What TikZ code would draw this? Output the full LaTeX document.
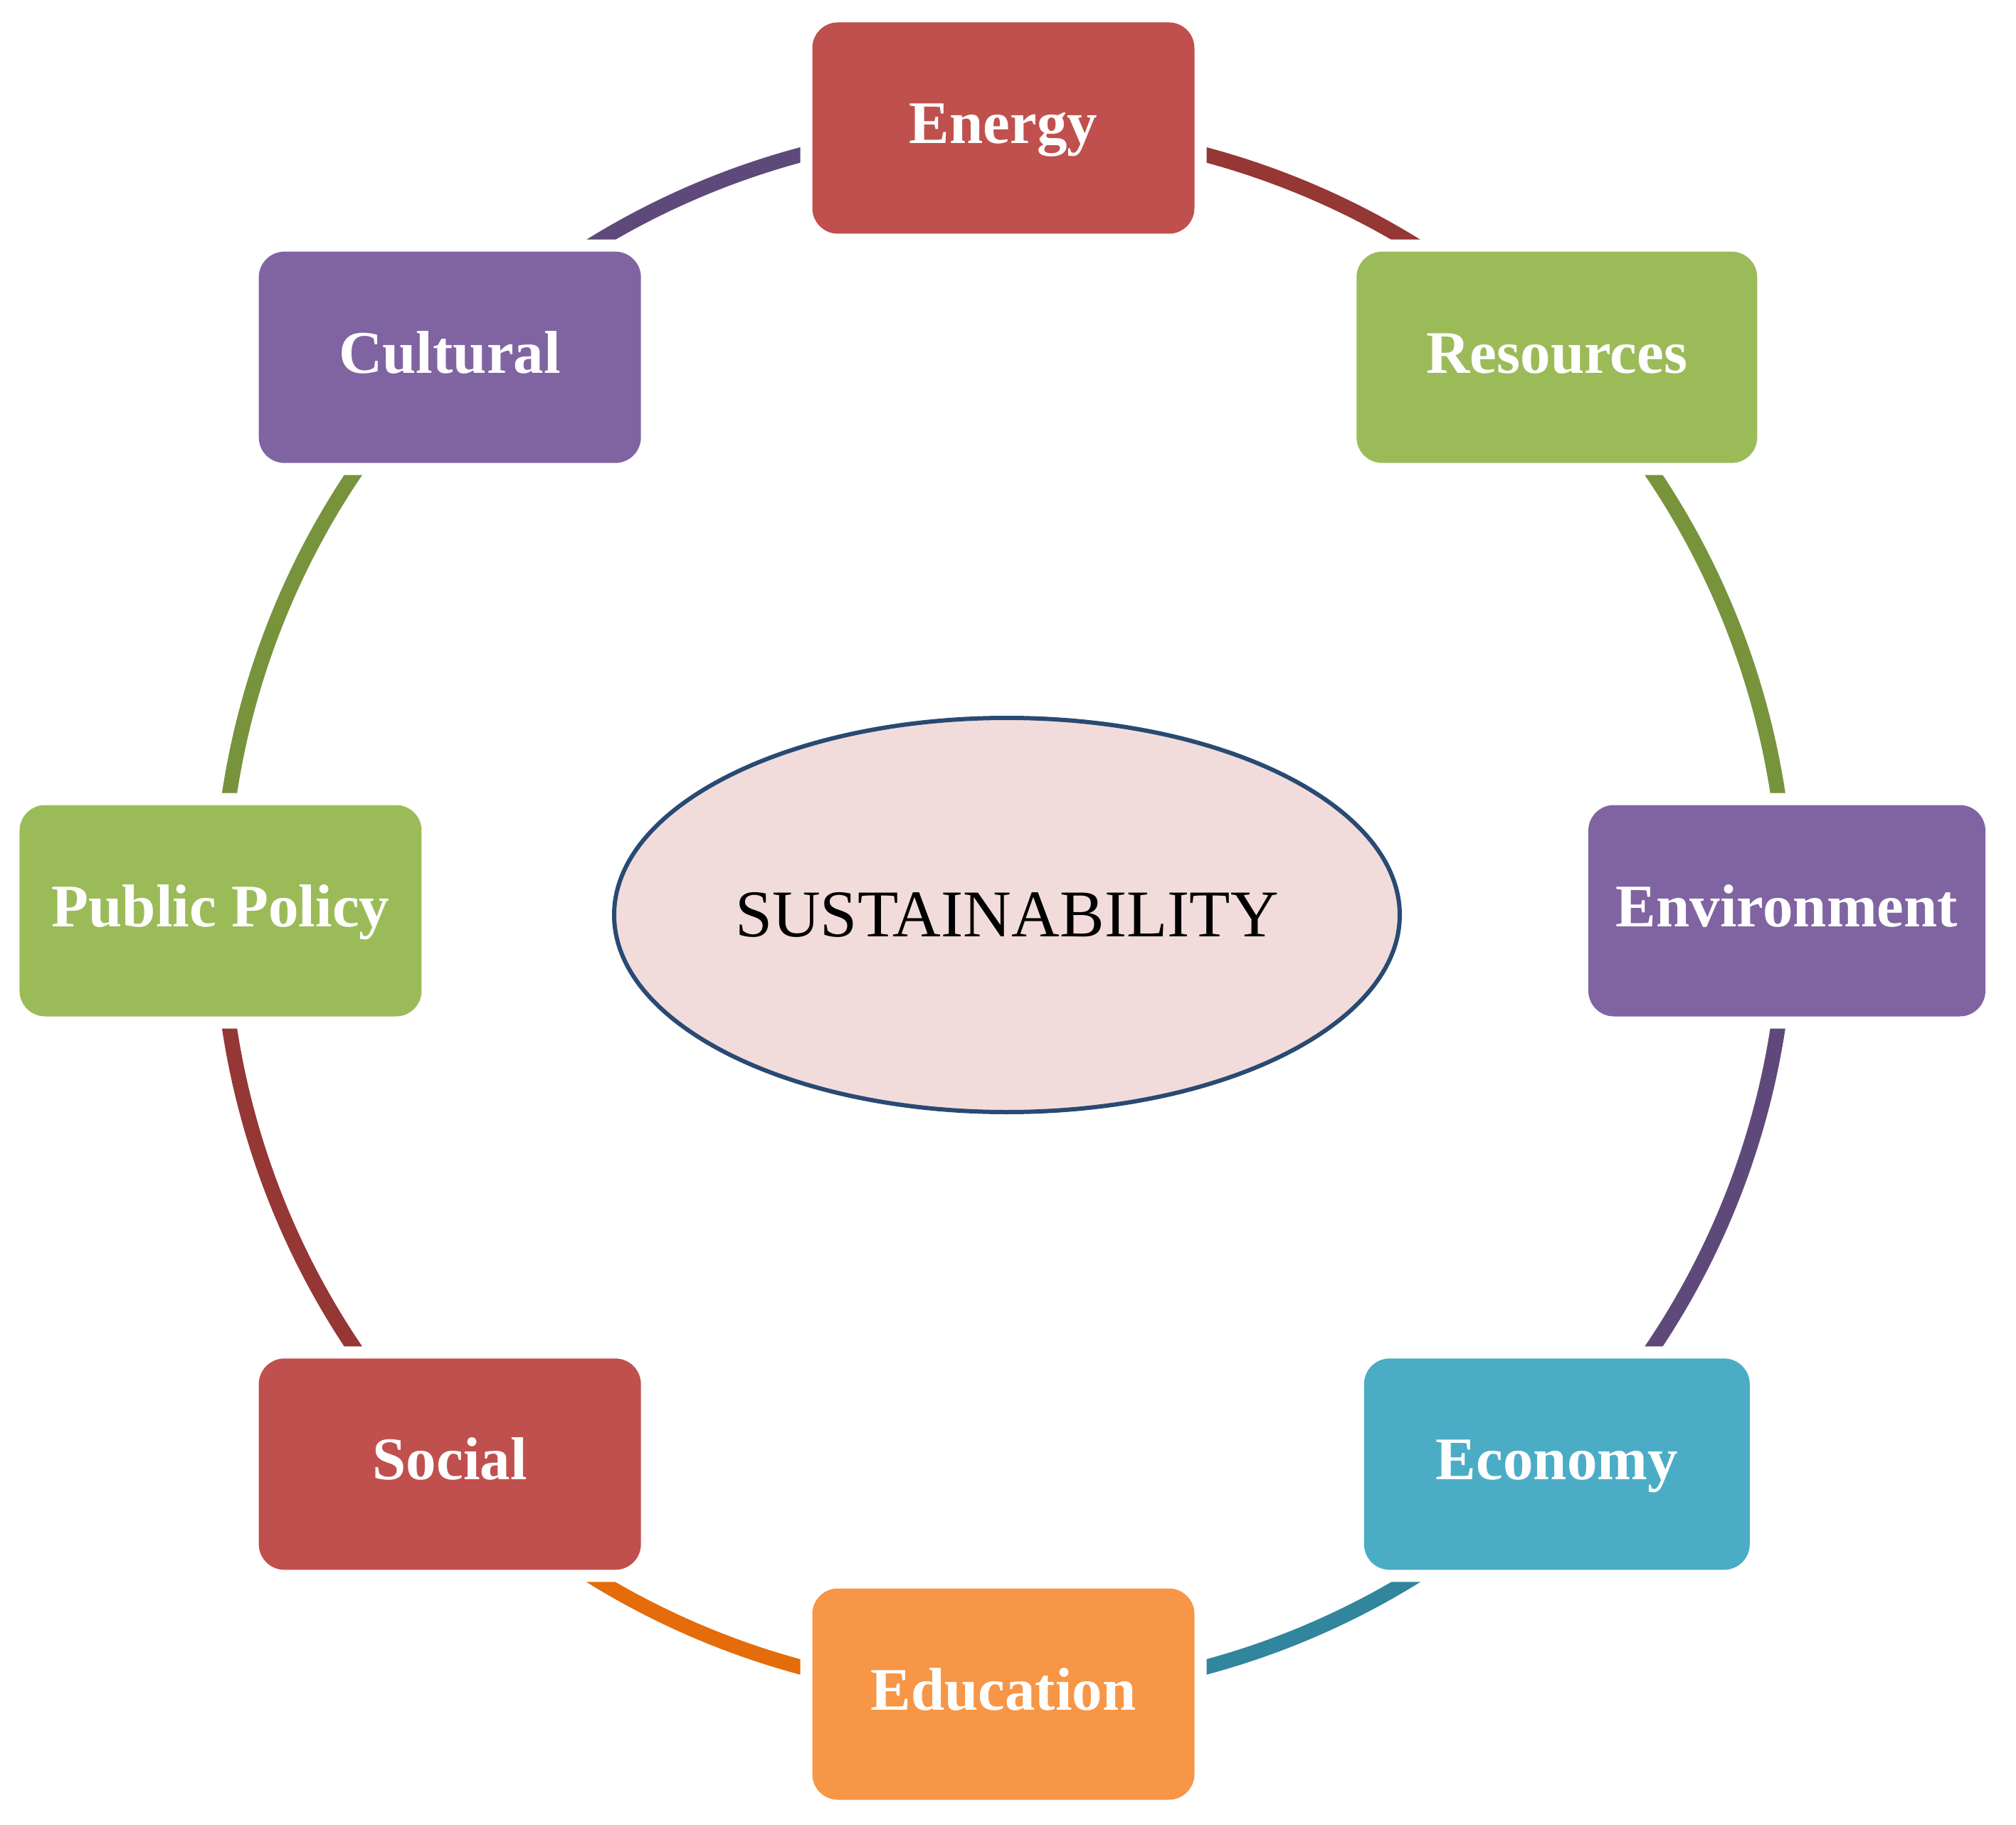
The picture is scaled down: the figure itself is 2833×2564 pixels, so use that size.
\documentclass[tikz,border=0pt]{standalone}
\usepackage{fontspec}
\setmainfont{Liberation Serif}
\usetikzlibrary{shapes.geometric,backgrounds}
\definecolor{accred}{HTML}{C0504D}
\definecolor{accreddk}{HTML}{953735}
\definecolor{accgreen}{HTML}{9BBB59}
\definecolor{accgreendk}{HTML}{77933C}
\definecolor{accpurple}{HTML}{8064A2}
\definecolor{accpurpledk}{HTML}{5F497A}
\definecolor{accaqua}{HTML}{4BACC6}
\definecolor{accaquadk}{HTML}{31859C}
\definecolor{accorange}{HTML}{F79646}
\definecolor{accorangedk}{HTML}{E46C0A}
\definecolor{corefill}{HTML}{F2DCDB}
\definecolor{coreline}{HTML}{284A73}
\tikzset{
topic/.style={
  rectangle,
  rounded corners=3.6mm,
  minimum width=53.7mm,
  minimum height=29.7mm,
  inner sep=0pt,
  outer sep=0pt,
  text height=6.4mm,
  text depth=2mm,
  text=white,
  font=\bfseries\fontsize{24.2pt}{29pt}\selectfont,
  preaction={draw=white,line width=3.4mm},
  fill=#1
  },
link/.style={
  draw=#1,
  line width=2.1mm,
  bend left=22.5,
  looseness=0.885
  },
core/.style={
  ellipse,
  draw=coreline,
  line width=0.6mm,
  fill=corefill,
  minimum width=110.4mm,
  minimum height=55.4mm,
  inner sep=0pt,
  font=\fontsize{26.7pt}{32pt}\selectfont
  }
}
\begin{document}
\begin{tikzpicture}[x=0.1mm,y=0.1mm]
    \useasboundingbox (-1410,-1284) rectangle (1423,1280);
    \node[core] (sus) at (5,-6) {SUSTAINABILITY};
    \node[topic=accred] (ene) at (90:1100) {Energy};
    \node[topic=accgreen,minimum width=56.3mm] (res) at (45:1100) {Resources};
    \node[topic=accpurple,minimum width=55.8mm] (env) at (0:1101) {Environment};
    \node[topic=accaqua,minimum width=54.2mm] (eco) at (-45:1100) {Economy};
    \node[topic=accorange] (edu) at (-90:1101) {Education};
    \node[topic=accred] (soc) at (-135:1100) {Social};
    \node[topic=accgreen,minimum width=56.5mm] (pol) at (180:1100) {Public Policy};
    \node[topic=accpurple] (cul) at (135:1100) {Cultural};
    \begin{scope}[on background layer]
        \draw[link=accpurpledk] (cul.center) to (ene.center);
        \draw[link=accreddk] (ene.center) to (res.center);
        \draw[link=accgreendk] (res.center) to (env.center);
        \draw[link=accpurpledk] (env.center) to (eco.center);
        \draw[link=accaquadk] (eco.center) to (edu.center);
        \draw[link=accorangedk] (edu.center) to (soc.center);
        \draw[link=accreddk] (soc.center) to (pol.center);
        \draw[link=accgreendk] (pol.center) to (cul.center);
    \end{scope}
\end{tikzpicture}
\end{document}
